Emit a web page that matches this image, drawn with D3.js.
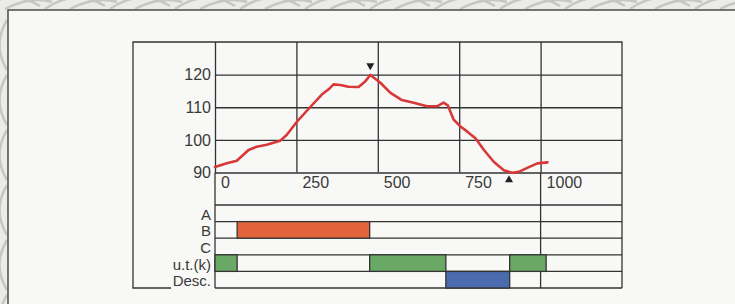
<!DOCTYPE html>
<html>
<head>
<meta charset="utf-8">
<script src="https://cdn.jsdelivr.net/npm/d3@7"></script>
<style>
  html, body { margin: 0; padding: 0; background: #ebebe8; }
  svg { display: block; }
  text { font-family: "Liberation Sans Narrow", "Arial Narrow", "Liberation Sans", sans-serif; fill: #3a3a3a; }
</style>
</head>
<body>
<svg id="chart" width="735" height="304"></svg>
<script>
// profile: distance vs value
var distances = [0, 36, 67, 103, 128, 159, 200, 220, 251, 292, 328, 349, 364, 385, 410, 441, 462, 477,
                 508, 538, 574, 610, 651, 682, 702, 715, 733, 754, 774, 800, 826, 856, 887, 913, 933, 959, 990, 1021];
var values = [91.7, 92.8, 93.6, 96.9, 97.9, 98.5, 99.7, 101.5, 105.5, 110, 113.9, 115.5, 117, 116.8, 116.3, 116.2, 118, 119.9,
              117.5, 114.5, 112.2, 111.4, 110.3, 110.3, 111.4, 110.6, 106.2, 104.1, 102.6, 100.5, 96.9, 93.3, 90.7, 89.9, 90.2, 91.4, 92.8, 93.1];
var xTicks = [0, 250, 500, 750, 1000];
var yTicks = [90, 100, 110, 120];
var rows = ["A", "B", "C", "u.t.(k)", "Desc."];
// row segments: row, start, end, colour
var segRow = ["B", "u.t.(k)", "u.t.(k)", "u.t.(k)", "Desc."];
var segStart = [68, 0, 475, 905, 709];
var segEnd = [475, 68, 709, 1017, 905];
var segColor = ["#e2643c", "#6aa866", "#6aa866", "#6aa866", "#4a6bae"];
var markerDown = [477, 120]; // peak
var markerUp = [903, 89.9];   // low point

var svg = d3.select("#chart");

// background ornament (scan border)
var orn = svg.append("g").attr("fill", "none").attr("stroke", "#c6c6c2").attr("stroke-width", 2.5);
for (var i = 0; i < 12; i++) {
  orn.append("path")
    .attr("d", "M" + (i * 65 - 20) + ",9 Q" + (i * 65 + 10) + ",-12 " + (i * 65 + 40) + ",6 M" + (i * 65 + 5) + ",9 Q" + (i * 65 + 30) + ",-4 " + (i * 65 + 52) + ",2");
}
for (var j = 0; j < 6; j++) {
  orn.append("path")
    .attr("d", "M7," + (20 + j * 55) + " Q-8," + (45 + j * 55) + " 7," + (70 + j * 55));
}
svg.append("rect").attr("x", 8).attr("y", 10).attr("width", 740).attr("height", 300)
  .attr("fill", "#f8f8f6").attr("stroke", "#555").attr("stroke-width", 1.6);

var x = d3.scaleLinear().domain([0, 1250]).range([215, 622]);
var y = d3.scaleLinear().domain([90, 130]).range([172.5, 42]);
var r = d3.scaleBand().domain(rows).range([205, 288]);

var ink = "#333";

// outer frame: top, right, left, short bottom piece
svg.append("path")
  .attr("d", "M" + 171 + "," + r.range()[1] + "H133V" + y(130) + "H" + x(1250) + "V" + r.range()[1])
  .attr("fill", "none").attr("stroke", ink).attr("stroke-width", 1.3);

// horizontal grid in profile area
svg.append("g")
  .attr("transform", "translate(" + x(0) + ",0)")
  .call(d3.axisLeft(y).tickValues(yTicks).tickSize(-(x(1250) - x(0))).tickFormat(""))
  .call(function(g) { g.select(".domain").remove(); })
  .selectAll("line").attr("stroke", ink).attr("stroke-width", 1.3);

// vertical grid in profile area
svg.append("g")
  .attr("transform", "translate(0," + y(90) + ")")
  .call(d3.axisTop(x).tickValues(xTicks).tickSize(y(90) - y(130)).tickFormat(""))
  .call(function(g) { g.select(".domain").remove(); })
  .selectAll("line").attr("stroke", ink).attr("stroke-width", 1.3);

// 0 and 1000 lines continue down through the rows
svg.append("g").selectAll("line").data([0, 1000]).join("line")
  .attr("x1", function(d) { return x(d); }).attr("x2", function(d) { return x(d); })
  .attr("y1", y(90)).attr("y2", r.range()[1])
  .attr("stroke", ink).attr("stroke-width", 1.3);

// y labels
svg.append("g").selectAll("text").data(yTicks).join("text")
  .attr("x", x(0) - 4).attr("y", function(d) { return y(d); })
  .attr("dy", "0.36em").attr("text-anchor", "end").attr("font-size", 16)
  .text(function(d) { return d; });

// x labels
svg.append("g").selectAll("text").data(xTicks).join("text")
  .attr("x", function(d) { return x(d) + 6; }).attr("y", y(90) + 10)
  .attr("dy", "0.36em").attr("font-size", 16)
  .text(function(d) { return d; });

// row lines
var rowEdges = rows.map(function(d) { return r(d); }).concat([r.range()[1]]);
svg.append("g").selectAll("line").data(rowEdges).join("line")
  .attr("x1", x(0)).attr("x2", x(1250))
  .attr("y1", function(d) { return d; }).attr("y2", function(d) { return d; })
  .attr("stroke", ink).attr("stroke-width", 1.3);

// row segments
svg.append("g").selectAll("rect").data(segRow).join("rect")
  .attr("x", function(d, i) { return x(segStart[i]); })
  .attr("y", function(d) { return r(d); })
  .attr("width", function(d, i) { return x(segEnd[i]) - x(segStart[i]); })
  .attr("height", r.bandwidth())
  .attr("fill", function(d, i) { return segColor[i]; })
  .attr("stroke", ink).attr("stroke-width", 1.3);

// row labels
svg.append("g").selectAll("text").data(rows).join("text")
  .attr("x", x(0) - 4).attr("y", function(d) { return r(d) + r.bandwidth() / 2 + 1; })
  .attr("dy", "0.36em").attr("text-anchor", "end").attr("font-size", 15)
  .text(function(d) { return d; });

// profile line
svg.append("path")
  .datum(d3.zip(distances, values))
  .attr("fill", "none").attr("stroke", "#d83838").attr("stroke-width", 2.6)
  .attr("stroke-linejoin", "round").attr("stroke-linecap", "round")
  .attr("d", d3.line().x(function(d) { return x(d[0]); }).y(function(d) { return y(d[1]); }));

// markers
var tri = d3.symbol().type(d3.symbolTriangle).size(28);
svg.append("path").attr("d", tri())
  .attr("transform", "translate(" + x(markerDown[0]) + "," + (y(markerDown[1]) - 9) + ") rotate(180)")
  .attr("fill", "#222");
svg.append("path").attr("d", tri())
  .attr("transform", "translate(" + x(markerUp[0]) + "," + (y(markerUp[1]) + 7) + ")")
  .attr("fill", "#222");
</script>
</body>
</html>
